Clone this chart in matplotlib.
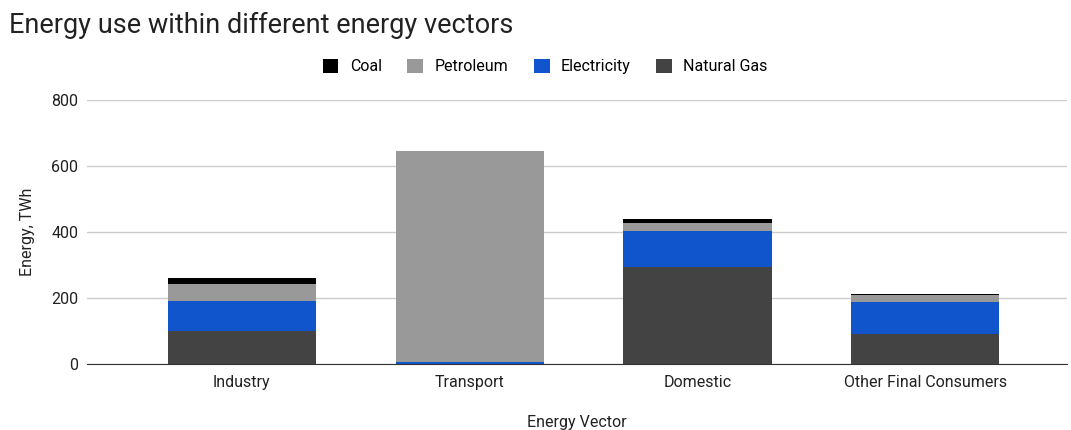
import matplotlib.pyplot as plt
import numpy as np

plt.rcParams['font.family'] = ['Roboto', 'DejaVu Sans']

categories = ['Industry', 'Transport', 'Domestic', 'Other Final Consumers']
natural_gas = [100, 0, 295, 93]
electricity = [93, 6, 108, 96]
petroleum = [49, 639, 25, 20]
coal = [20, 0, 12, 5]

series = [('Natural Gas', natural_gas, '#434343'),
          ('Electricity', electricity, '#1155cc'),
          ('Petroleum', petroleum, '#999999'),
          ('Coal', coal, '#000000')]

fig = plt.figure(figsize=(10.71, 4.30), dpi=100)
ax = fig.add_axes([0.081, 0.153, 0.915, 0.614])

x = np.arange(len(categories))
bottom = np.zeros(len(categories))
handles = {}
for name, vals, col in series:
    vals = np.array(vals, dtype=float)
    b = ax.bar(x, vals, 0.65, bottom=bottom, color=col, label=name, zorder=3)
    handles[name] = b
    bottom += vals

ax.set_xlim(-0.68, len(categories) - 1 + 0.62)
ax.set_ylim(0, 800)
ax.set_yticks([0, 200, 400, 600, 800])
ax.set_xticks(x)
ax.set_xticklabels(categories)
ax.grid(axis='y', color='#cccccc', linewidth=1, zorder=0)
for s in ['top', 'right', 'left']:
    ax.spines[s].set_visible(False)
ax.spines['bottom'].set_color('#333333')
ax.spines['bottom'].set_zorder(2)
ax.tick_params(axis='both', length=0, labelsize=11.5, colors='#222222')
ax.tick_params(axis='x', pad=8)
ax.tick_params(axis='y', pad=6)

ax.set_ylabel('Energy, TWh', fontsize=11.5, color='#222222', labelpad=12)
ax.set_xlabel('Energy Vector', fontsize=11.5, color='#222222', labelpad=18)

fig.text(0.008, 0.94, 'Energy use within different energy vectors',
         fontsize=19.5, color='#222222', va='center', ha='left')

order = ['Coal', 'Petroleum', 'Electricity', 'Natural Gas']
fig.legend([handles[n] for n in order], order, loc='center',
           bbox_to_anchor=(0.509, 0.845), ncol=4, frameon=False,
           fontsize=11.5, handlelength=1.0, handleheight=1.0,
           columnspacing=1.6, handletextpad=0.7)

fig.savefig('out.png', dpi=100)
